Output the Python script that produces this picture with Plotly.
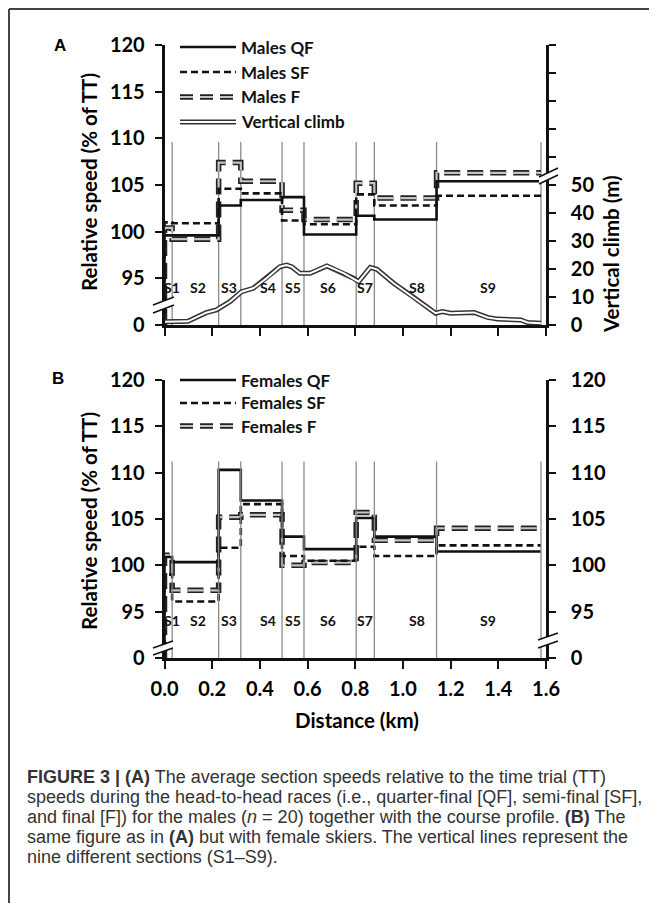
import plotly.graph_objects as go

# ---------------- data ----------------
section_bounds = [0.0, 0.032, 0.227, 0.32, 0.493, 0.585, 0.804, 0.88, 1.141, 1.579]
section_names = ["S1", "S2", "S3", "S4", "S5", "S6", "S7", "S8", "S9"]
section_label_x = [0.03, 0.139, 0.27, 0.434, 0.539, 0.686, 0.842, 1.061, 1.356]

males_qf = [99.6, 99.6, 102.8, 103.4, 103.7, 99.7, 101.7, 101.3, 105.4]
males_sf = [101.0, 100.9, 104.6, 104.1, 101.2, 100.8, 104.0, 102.8, 103.85]
males_f = [100.4, 99.2, 107.4, 105.4, 102.3, 101.3, 105.2, 103.6, 106.3]

females_qf = [100.9, 100.35, 110.3, 107.0, 103.1, 101.75, 105.1, 103.1, 101.5]
females_sf = [99.0, 96.1, 101.9, 106.6, 101.0, 100.5, 102.0, 101.0, 102.15]
females_f = [101.1, 97.3, 105.2, 105.45, 100.0, 100.3, 105.7, 102.7, 104.0]

profile_km = [0.0, 0.098, 0.175, 0.218, 0.274, 0.323, 0.372, 0.428, 0.484, 0.512, 0.533,
              0.568, 0.611, 0.681, 0.751, 0.793, 0.814, 0.863, 0.891, 0.961, 1.032,
              1.088, 1.137, 1.165, 1.2, 1.298, 1.355, 1.397, 1.495, 1.523, 1.579]
profile_m = [1.2, 1.3, 4.4, 5.4, 8.3, 11.9, 13.1, 16.7, 20.8, 21.4, 20.8,
             18.5, 18.5, 21.1, 18.5, 16.7, 15.5, 20.6, 19.9, 14.9, 10.7,
             7.1, 4.2, 4.8, 4.2, 4.5, 2.7, 2.1, 1.8, 0.9, 0.6]

speed_ticks = [90, 95, 100, 105, 110, 115, 120]
speed_tick_text = ["0", "95", "100", "105", "110", "115", "120"]
climb_ticks = [0, 10, 20, 30, 40, 50, 60, 70, 80, 90, 100]
climb_tick_text = ["0", "10", "20", "30", "40", "50", "", "", "", "", ""]
dist_ticks = [0.0, 0.2, 0.4, 0.6, 0.8, 1.0, 1.2, 1.4, 1.6]
dist_tick_text = ["0.0", "0.2", "0.4", "0.6", "0.8", "1.0", "1.2", "1.4", "1.6"]

# ---------------- geometry helpers ----------------
# the page body adds an 8px margin, so the figure is sized to fit the window
OFF = 8
W, H = 657 - OFF, 903 - OFF
FLOOR = 90


def px(x):
    return (x - OFF) / W


def py(y):
    return 1 - (y - OFF) / H


def steps(values):
    xs, ys = [section_bounds[0]], [FLOOR]
    for i, v in enumerate(values):
        xs += [section_bounds[i], section_bounds[i + 1]]
        ys += [v, v]
    return xs, ys


def vlines(top):
    xs, ys = [], []
    for b in section_bounds[1:]:
        xs += [b, b, None]
        ys += [FLOOR, top, None]
    return xs, ys


fig = go.Figure()
BLACK = "#111111"
GRAY_SEC = "#8a8a8a"


def add_speed(values, style, xa, ya):
    xs, ys = steps(values)
    if style == "qf":
        fig.add_trace(go.Scatter(x=xs, y=ys, mode="lines", xaxis=xa, yaxis=ya,
                                 line=dict(color=BLACK, width=2.6), showlegend=False))
    elif style == "sf":
        fig.add_trace(go.Scatter(x=xs, y=ys, mode="lines", xaxis=xa, yaxis=ya,
                                 line=dict(color=BLACK, width=2.6, dash="7px,4px"), showlegend=False))
    else:
        fig.add_trace(go.Scatter(x=xs, y=ys, mode="lines", xaxis=xa, yaxis=ya,
                                 line=dict(color="#222222", width=5.5, dash="16px,7px"), showlegend=False))
        fig.add_trace(go.Scatter(x=xs, y=ys, mode="lines", xaxis=xa, yaxis=ya,
                                 line=dict(color="#c4c4c4", width=2.2, dash="16px,7px"), showlegend=False))


# Panel A
vx, vy = vlines(109.6)
fig.add_trace(go.Scatter(x=vx, y=vy, mode="lines", xaxis="x", yaxis="y",
                         line=dict(color=GRAY_SEC, width=1.3), showlegend=False))
fig.add_trace(go.Scatter(x=profile_km, y=profile_m, mode="lines", xaxis="x", yaxis="y2",
                         line=dict(color="#333333", width=5), showlegend=False))
fig.add_trace(go.Scatter(x=profile_km, y=profile_m, mode="lines", xaxis="x", yaxis="y2",
                         line=dict(color="white", width=2), showlegend=False))
add_speed(males_f, "f", "x", "y")
add_speed(males_sf, "sf", "x", "y")
add_speed(males_qf, "qf", "x", "y")

# Panel B
vx, vy = vlines(111.2)
fig.add_trace(go.Scatter(x=vx, y=vy, mode="lines", xaxis="x2", yaxis="y4",
                         line=dict(color=GRAY_SEC, width=1.3), showlegend=False))
add_speed(females_f, "f", "x2", "y3")
add_speed(females_sf, "sf", "x2", "y3")
add_speed(females_qf, "qf", "x2", "y3")

# ---------------- axes ----------------
XDOM = [px(164.5), px(546)]
A_DOM = [py(325), py(45)]
B_DOM = [py(658), py(380)]
TICKFONT = dict(family="Lato", size=20, color="black", weight="bold")

common = dict(showline=True, linecolor=BLACK, linewidth=2.6, ticks="outside",
              ticklen=7, tickwidth=2.2, tickcolor=BLACK, showgrid=False,
              zeroline=False, tickfont=TICKFONT, fixedrange=True, automargin=False)

fig.update_layout(
    xaxis=dict(domain=XDOM, range=[0, 1.6], anchor="y", tickvals=dist_ticks,
               showticklabels=False, ticklen=8, **{k: v for k, v in common.items() if k != "ticklen"}),
    yaxis=dict(domain=A_DOM, range=[90, 120], anchor="x", tickvals=speed_ticks,
               ticktext=speed_tick_text, ticklabelstandoff=6, **common),
    yaxis2=dict(range=[0, 100], overlaying="y", side="right", anchor="x",
                tickvals=climb_ticks, ticktext=climb_tick_text, ticklabelstandoff=11, **common),
    xaxis2=dict(domain=XDOM, range=[0, 1.6], anchor="y3", tickvals=dist_ticks,
                ticktext=dist_tick_text, ticklen=8, ticklabelstandoff=3,
                **{k: v for k, v in common.items() if k != "ticklen"}),
    yaxis3=dict(domain=B_DOM, range=[90, 120], anchor="x2", tickvals=speed_ticks,
                ticktext=speed_tick_text, ticklabelstandoff=6, **common),
    yaxis4=dict(range=[90, 120], overlaying="y3", side="right", anchor="x2",
                tickvals=speed_ticks, ticktext=speed_tick_text, ticklabelstandoff=11, **common),
    width=W, height=H, margin=dict(l=0, r=0, t=0, b=0, pad=0, autoexpand=False),
    paper_bgcolor="white", plot_bgcolor="rgba(0,0,0,0)", showlegend=False,
)

annotations = []
shapes = []


def ann(x, y, text, font, xanchor="center", yanchor="middle", **kw):
    d = dict(x=px(x), y=py(y), xref="paper", yref="paper", text=text, showarrow=False,
             font=font, xanchor=xanchor, yanchor=yanchor)
    d.update(kw)
    annotations.append(d)


# section labels
for name, xl in zip(section_names, section_label_x):
    for xa, ya in (("x", "y"), ("x2", "y3")):
        annotations.append(dict(x=xl, y=94.0, xref=xa, yref=ya, text=name, showarrow=False,
                                xanchor="center", yanchor="middle",
                                font=dict(family="Lato", size=14, color=BLACK, weight="bold")))

TITLEFONT = dict(family="Lato", size=20.5, color="black", weight="bold")
ann(89, 182, "Relative speed (% of TT)", TITLEFONT, textangle=-90)
ann(89, 521, "Relative speed (% of TT)", TITLEFONT, textangle=-90)
ann(611, 254, "Vertical climb (m)", TITLEFONT, textangle=-90)
ann(357, 720, "Distance (km)", TITLEFONT)
ann(60, 45, "<b>A</b>", dict(family="Liberation Sans", size=17, color="black"))
ann(58, 378, "<b>B</b>", dict(family="Liberation Sans", size=17, color="black"))

# legends
LEGFONT = dict(family="Lato", size=17, color=BLACK, weight="bold")


def legend_item(y, label, style):
    x0, x1 = px(180), px(236)
    yy = py(y)
    line = dict(type="line", xref="paper", yref="paper", x0=x0, x1=x1, y0=yy, y1=yy)
    if style == "qf":
        shapes.append(dict(line, line=dict(color=BLACK, width=2.6)))
    elif style == "sf":
        shapes.append(dict(line, line=dict(color=BLACK, width=2.6, dash="7px,4px")))
    elif style == "f":
        shapes.append(dict(line, line=dict(color="#222222", width=5.5, dash="13px,7px")))
        shapes.append(dict(line, line=dict(color="#c4c4c4", width=2.2, dash="13px,7px")))
    else:
        shapes.append(dict(line, line=dict(color="#333333", width=5)))
        shapes.append(dict(line, line=dict(color="white", width=2)))
    ann(239, y, label, LEGFONT, xanchor="left")


for y, lab, st in ((47, "Males QF", "qf"), (72, "Males SF", "sf"), (97, "Males F", "f"),
                   (122, "Vertical climb", "vc")):
    legend_item(y, lab, st)
for y, lab, st in ((380, "Females QF", "qf"), (403, "Females SF", "sf"), (426, "Females F", "f")):
    legend_item(y, lab, st)


# axis break marks
def brk(xa, ya, xb, yb, d):
    path = "M{},{} L{},{} L{},{} L{},{} Z".format(px(xa), py(ya), px(xb), py(yb),
                                                 px(xb), py(yb + d), px(xa), py(ya + d))
    shapes.append(dict(type="path", xref="paper", yref="paper", path=path,
                       fillcolor="white", line=dict(width=0)))
    for off in (0, d):
        shapes.append(dict(type="line", xref="paper", yref="paper", x0=px(xa), y0=py(ya + off),
                           x1=px(xb), y1=py(yb + off), line=dict(color=BLACK, width=1.6)))


brk(153, 305, 174, 297, 8)
brk(539, 177, 558, 168, 7)
brk(153, 648, 173, 641, 7)
brk(538, 640, 558, 633, 8)

# frame
shapes.append(dict(type="line", xref="paper", yref="paper", x0=px(9), x1=1, y0=py(9), y1=py(9),
                   line=dict(color="#444444", width=2)))
shapes.append(dict(type="line", xref="paper", yref="paper", x0=px(9), x1=px(9), y0=py(9), y1=0,
                   line=dict(color="#444444", width=2)))

# caption
CAPFONT = dict(family="Liberation Sans", size=18, color="#333333")
caption_lines = [
    "<b>FIGURE 3 | (A)</b> The average section speeds relative to the time trial (TT)",
    "speeds during the head-to-head races (i.e., quarter-final [QF], semi-final [SF],",
    "and final [F]) for the males (<i>n</i> = 20) together with the course profile. <b>(B)</b> The",
    "same figure as in <b>(A)</b> but with female skiers. The vertical lines represent the",
    "nine different sections (S1\u2013S9).",
]
for i, line in enumerate(caption_lines):
    ann(25, 777 + 20 * i, line, CAPFONT, xanchor="left")

fig.update_layout(annotations=annotations, shapes=shapes)
fig.write_html("out.html")
